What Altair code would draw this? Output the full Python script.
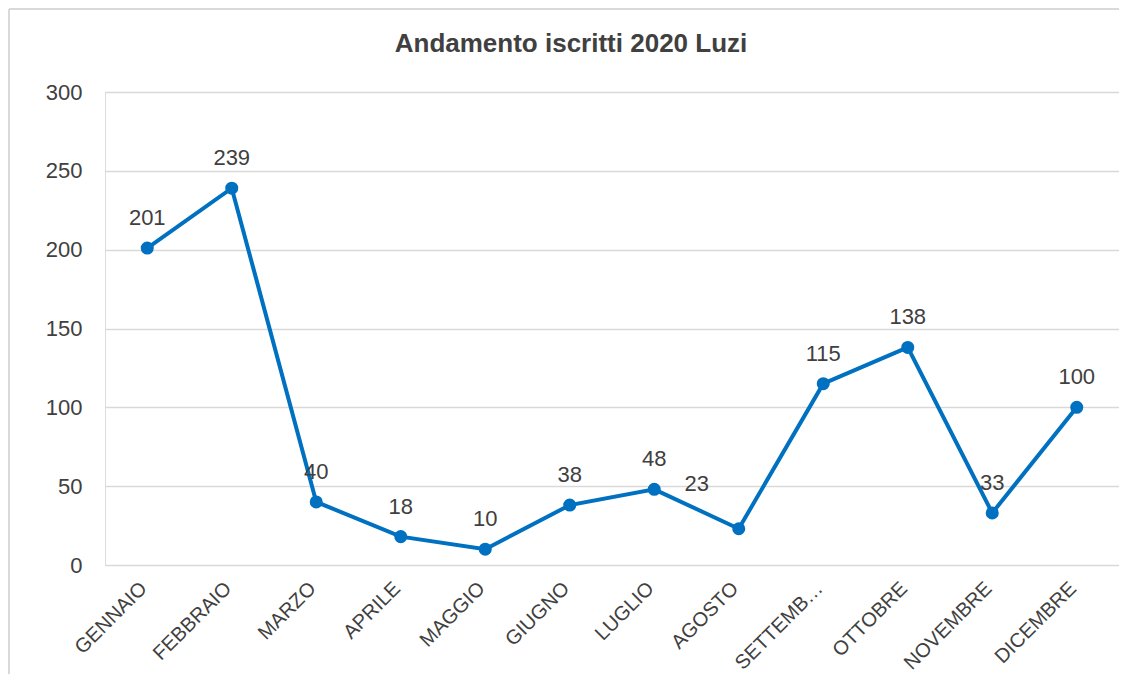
import altair as alt
import pandas as pd

months = ["GENNAIO", "FEBBRAIO", "MARZO", "APRILE", "MAGGIO", "GIUGNO",
          "LUGLIO", "AGOSTO", "SETTEMBRE", "OTTOBRE", "NOVEMBRE", "DICEMBRE"]
iscritti = [201, 239, 40, 18, 10, 38, 48, 23, 115, 138, 33, 100]
y_ticks = [0, 50, 100, 150, 200, 250, 300]
title_text = "Andamento iscritti 2020 Luzi"

df = pd.DataFrame({"mese": months, "iscritti": iscritti})

FONT = "Liberation Sans"
BLUE = "#0070C0"
TXT = "#404040"

x = alt.X(
    "mese:N", sort=months, title=None,
    scale=alt.Scale(type="point", padding=0.5),
    axis=alt.Axis(labelAngle=-45, labelAlign="right", labelBaseline="middle",
                  labelFontSize=20, labelColor=TXT, labelFont=FONT,
                  labelPadding=20, labelOffset=-4, ticks=False, domain=False,
                  grid=False, labelOverlap=False,
                  labelExpr="datum.value == 'SETTEMBRE' ? 'SETTEMB\u2026' : datum.value"),
)
y = alt.Y(
    "iscritti:Q", title=None,
    scale=alt.Scale(domain=[0, 300], nice=False),
    axis=alt.Axis(values=y_ticks, labelFontSize=22, labelColor=TXT, labelFont=FONT,
                  labelPadding=23, ticks=False, domain=False, grid=True,
                  gridColor="#d9d9d9", gridWidth=1.3),
)

base = alt.Chart(df)

line = base.mark_line(color=BLUE, strokeWidth=4).encode(x=x, y=y)
points = base.mark_point(filled=True, color=BLUE, size=170, opacity=1).encode(x=x, y=y)
labels = base.transform_filter("datum.mese != 'AGOSTO'").mark_text(
    dy=-23, fontSize=22, color=TXT, font=FONT, baseline="alphabetic"
).encode(x=x, y=y, text="iscritti:Q")
label_ag = base.transform_filter("datum.mese == 'AGOSTO'").mark_text(
    dx=-42, dy=-38, fontSize=22, color=TXT, font=FONT, baseline="alphabetic"
).encode(x=x, y=y, text="iscritti:Q")

one = alt.Chart(pd.DataFrame({"t": [title_text]}))
top_edge = one.mark_rule(color="#d9d9d9", strokeWidth=2).encode(
    x=alt.value(-96), x2=alt.value(1300), y=alt.value(-83))
left_edge = one.mark_rule(color="#d9d9d9", strokeWidth=2).encode(
    x=alt.value(-96), y=alt.value(-83), y2=alt.value(700))
title = one.mark_text(fontSize=26, fontWeight="bold", font=FONT, color=TXT,
                      baseline="alphabetic", align="center").encode(
    x=alt.value(466), y=alt.value(-40), text="t:N")

chart = alt.layer(top_edge, left_edge, title, line, points, labels, label_ag).properties(
    width=1014, height=473,
    autosize=alt.AutoSizeParams(type="none"),
    padding={"left": 97, "top": 84, "right": 0, "bottom": 109},
).configure_view(stroke=None).configure(background="white")

chart.save("out.html", embed_options={"renderer": "svg", "actions": False})
